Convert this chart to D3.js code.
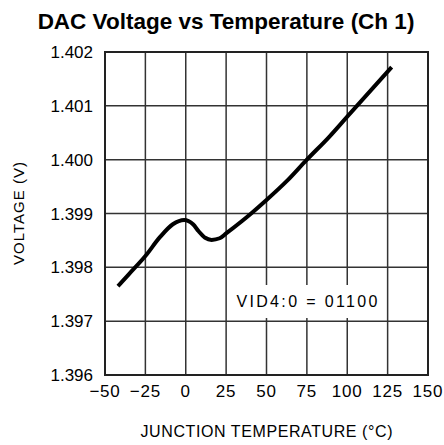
<!DOCTYPE html>
<html>
<head>
<meta charset="utf-8">
<script src="https://cdn.jsdelivr.net/npm/d3@7"></script>
<style>
  body { margin: 0; background: #fff; }
  text { font-family: "Liberation Sans", Arial, sans-serif; fill: #000; }
</style>
</head>
<body>
<svg id="chart" width="444" height="445"></svg>
<script>
var width = 444;
var height = 445;

// data
var temps = [-42, -35, -25, -16, -8, -1, 4.5, 8, 12, 16, 21, 25, 40.5, 50, 62.5, 75, 89, 100, 127.5];
var volts = [1.39765, 1.39788, 1.39821, 1.39856, 1.39880, 1.39888, 1.39880, 1.39867, 1.39855, 1.39851,
             1.39854, 1.39863, 1.39900, 1.39925, 1.39960, 1.40000, 1.40043, 1.40080, 1.40172];
var xTicks = [-50, -25, 0, 25, 50, 75, 100, 125, 150];
var yTicks = [1.396, 1.397, 1.398, 1.399, 1.400, 1.401, 1.402];

var margin = {left: 105, right: 16, top: 52, bottom: 70};

var svg = d3.select("#chart");

var x = d3.scaleLinear()
    .domain([-50, 150])
    .range([margin.left, width - margin.right]);

var y = d3.scaleLinear()
    .domain([1.396, 1.402])
    .range([height - margin.bottom, margin.top]);

// grid
var grid = svg.append("g").attr("stroke", "#333").attr("stroke-width", 1.5);
grid.selectAll("line.v")
    .data(xTicks.slice(1, -1))
    .enter().append("line")
    .attr("x1", function(d) { return x(d); })
    .attr("x2", function(d) { return x(d); })
    .attr("y1", y(1.402))
    .attr("y2", y(1.396));
grid.selectAll("line.h")
    .data(yTicks.slice(1, -1))
    .enter().append("line")
    .attr("x1", x(-50))
    .attr("x2", x(150))
    .attr("y1", function(d) { return y(d); })
    .attr("y2", function(d) { return y(d); });

// label box that breaks the grid
var label = "VID4:0 = 01100";
svg.append("rect")
    .attr("x", x(75) - 76)
    .attr("y", 285)
    .attr("width", 152)
    .attr("height", 33)
    .attr("fill", "#fff");
svg.append("text")
    .attr("x", x(75))
    .attr("y", 307)
    .attr("text-anchor", "middle")
    .attr("font-size", 16)
    .attr("textLength", 141)
    .attr("lengthAdjust", "spacing")
    .text(label);

// frame
svg.append("rect")
    .attr("x", x(-50))
    .attr("y", y(1.402))
    .attr("width", x(150) - x(-50))
    .attr("height", y(1.396) - y(1.402))
    .attr("fill", "none")
    .attr("stroke", "#222")
    .attr("stroke-width", 2);

// curve
var line = d3.line()
    .x(function(d, i) { return x(temps[i]); })
    .y(function(d) { return y(d); })
    .curve(d3.curveMonotoneX);

svg.append("path")
    .datum(volts)
    .attr("d", line)
    .attr("fill", "none")
    .attr("stroke", "#000")
    .attr("stroke-width", 4)
    .attr("stroke-linecap", "butt");

// tick labels
svg.selectAll("text.yt")
    .data(yTicks)
    .enter().append("text")
    .attr("x", x(-50) - 12)
    .attr("y", function(d) { return y(d); })
    .attr("dy", "0.36em")
    .attr("text-anchor", "end")
    .attr("font-size", 17)
    .text(function(d) { return d3.format(".3f")(d); });

svg.selectAll("text.xt")
    .data(xTicks)
    .enter().append("text")
    .attr("x", function(d) { return x(d); })
    .attr("y", 397)
    .attr("text-anchor", "middle")
    .attr("font-size", 17)
    .attr("letter-spacing", 0.8)
    .text(function(d) { return d < 0 ? "\u2212" + Math.abs(d) : d; });

// axis titles
svg.append("text")
    .attr("x", (x(-50) + x(150)) / 2)
    .attr("y", 437)
    .attr("text-anchor", "middle")
    .attr("font-size", 16)
    .attr("textLength", 252)
    .attr("lengthAdjust", "spacing")
    .text("JUNCTION TEMPERATURE (\u00B0C)");

svg.append("text")
    .attr("transform", "translate(24," + ((y(1.396) + y(1.402)) / 2) + ") rotate(-90)")
    .attr("text-anchor", "middle")
    .attr("font-size", 15)
    .attr("textLength", 103)
    .attr("lengthAdjust", "spacing")
    .text("VOLTAGE (V)");

// title
svg.append("text")
    .attr("x", 226)
    .attr("y", 29)
    .attr("text-anchor", "middle")
    .attr("font-size", 22.5)
    .attr("font-weight", "bold")
    .text("DAC Voltage vs Temperature (Ch 1)");
</script>
</body>
</html>
